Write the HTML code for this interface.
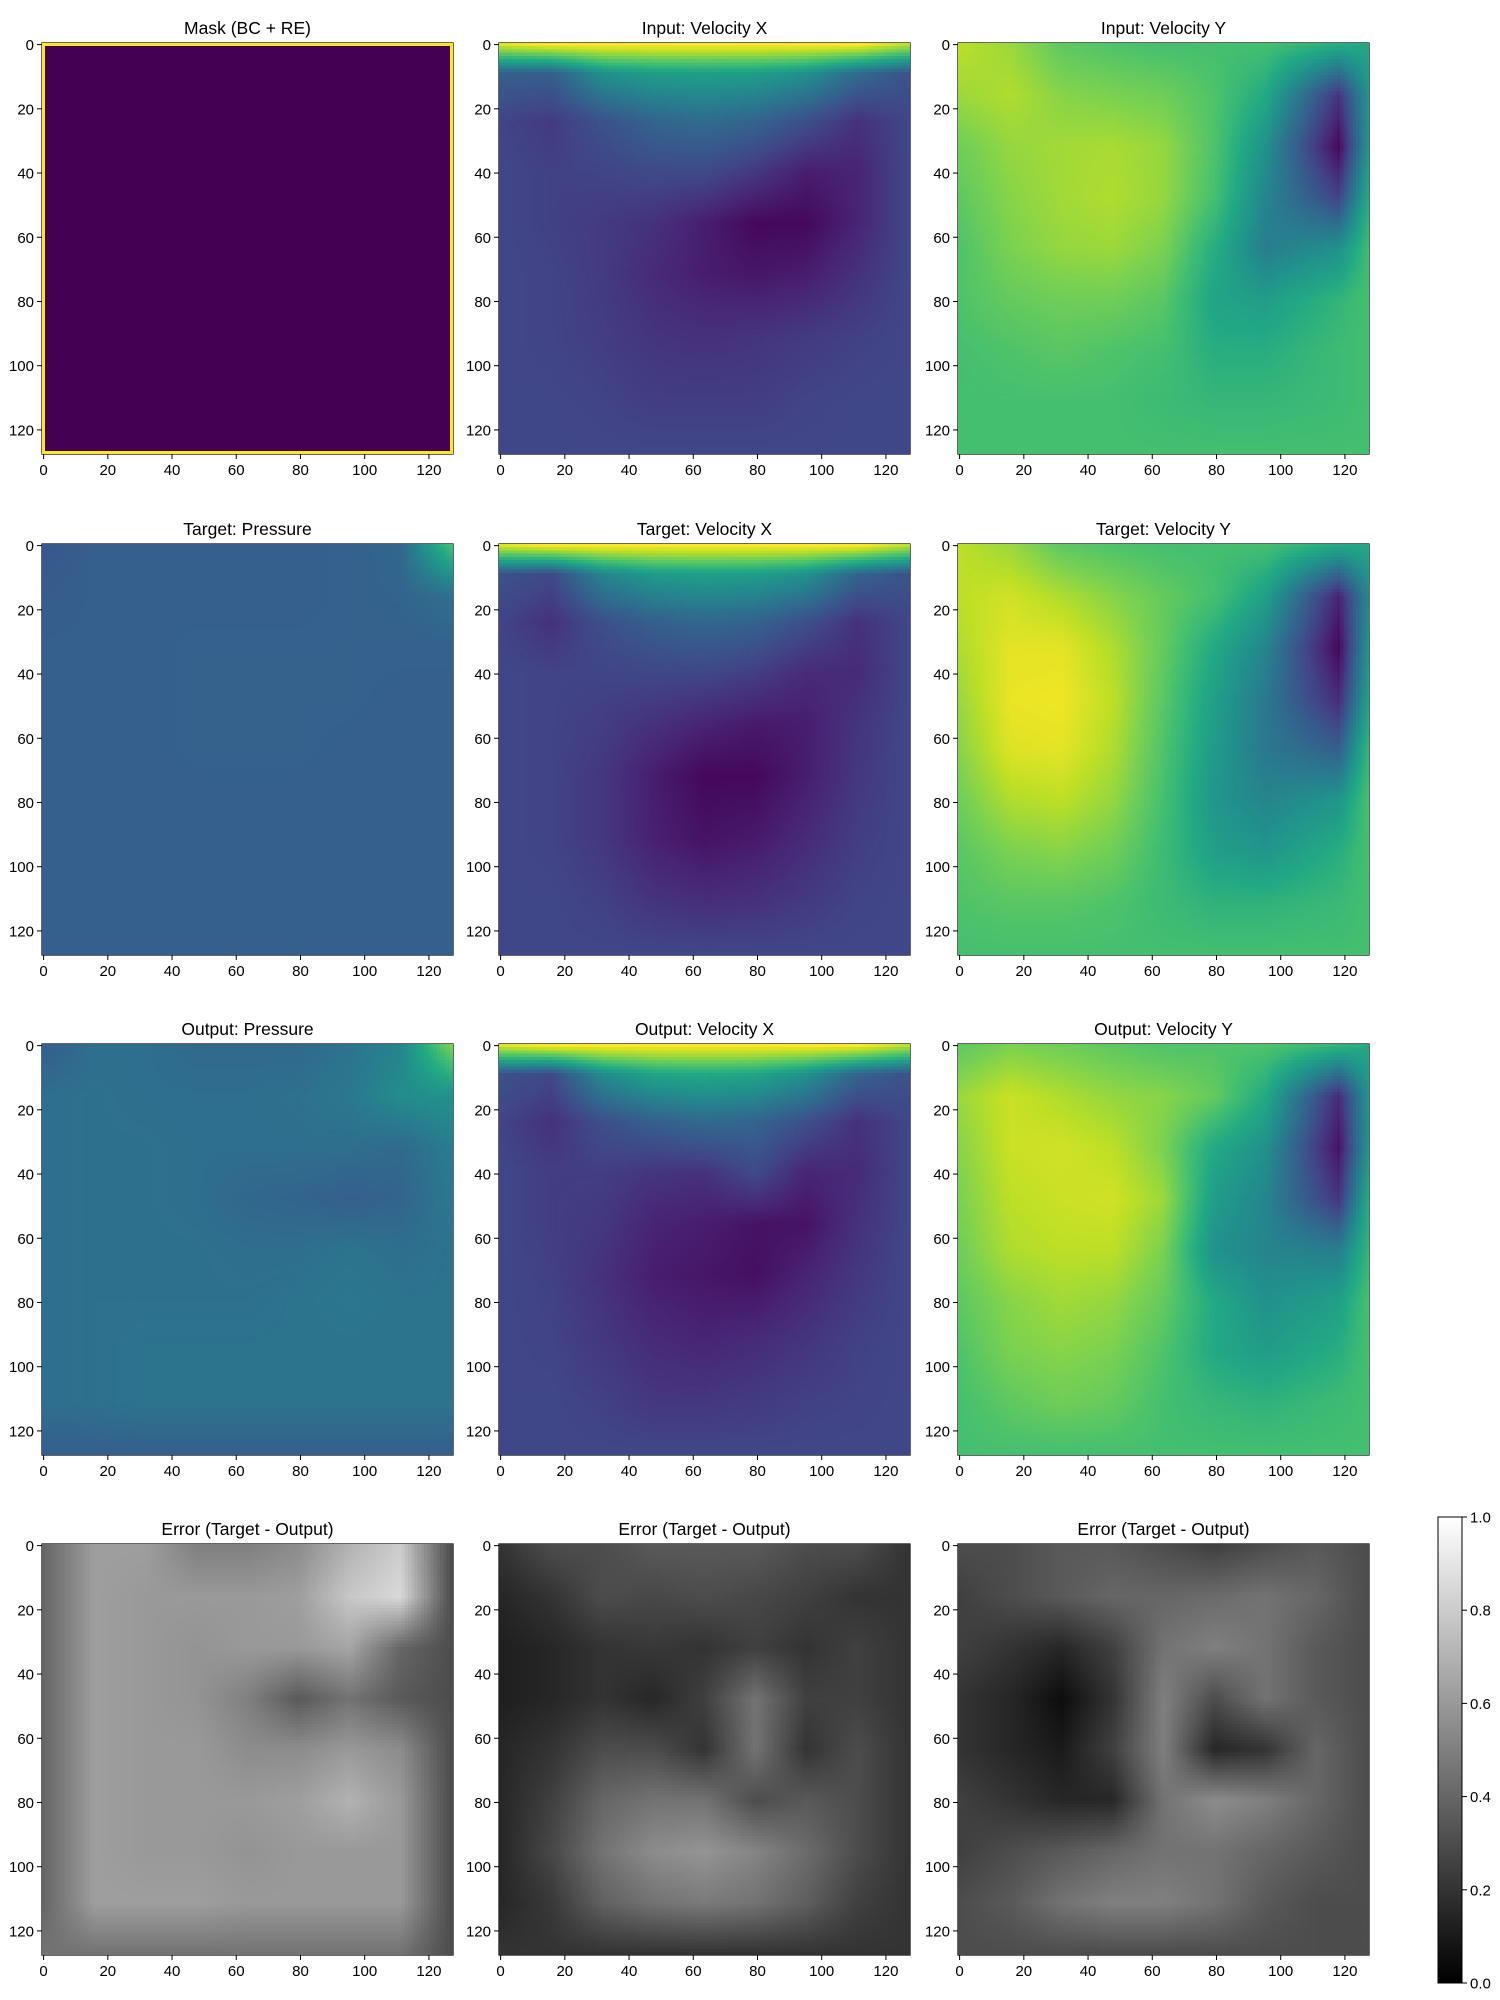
<!DOCTYPE html>
<html><head><meta charset="utf-8">
<style>
html,body{margin:0;padding:0;background:#fff;}
#root{position:relative;width:1500px;height:2000px;overflow:hidden;font-family:"Liberation Sans","DejaVu Sans",sans-serif;}
canvas{position:absolute;image-rendering:pixelated;}
svg{position:absolute;left:0;top:0;}
</style></head>
<body>
<div id="root">
<svg id="svg" width="1500" height="2000"></svg>
</div>
<script>
// ---- data: vertex grids (rows at knotsY; cols at knots X) ----
const tickValues = [0,20,40,60,80,100,120];
const cbarTicks = [0.0,0.2,0.4,0.6,0.8,1.0];
const titles = ["Mask (BC + RE)","Input: Velocity X","Input: Velocity Y","Target: Pressure","Target: Velocity X","Target: Velocity Y","Output: Pressure","Output: Velocity X","Output: Velocity Y","Error (Target - Output)","Error (Target - Output)","Error (Target - Output)"];
const knotsDefault = [0,16,32,48,64,80,96,112,128];
const knotsVelYx = [0,16,32,48,64,80,96,119,128];
const knotsVelXy = [0,9,24,40,56,72,92,112,128];
const maskInterior = 0.0;
const maskBoundary = 1.0;
const inputVelX = [
[0.95,1,1,1,1,1,1,1,0.9],
[0.3,0.3,0.5,0.55,0.56,0.55,0.5,0.35,0.25],
[0.2,0.17,0.25,0.32,0.35,0.32,0.24,0.14,0.21],
[0.21,0.19,0.2,0.22,0.22,0.16,0.08,0.1,0.21],
[0.21,0.19,0.17,0.14,0.08,0.02,0.02,0.1,0.21],
[0.21,0.2,0.17,0.12,0.08,0.06,0.08,0.14,0.21],
[0.21,0.2,0.18,0.15,0.14,0.15,0.17,0.19,0.21],
[0.21,0.21,0.2,0.18,0.18,0.18,0.2,0.21,0.21],
[0.21,0.21,0.21,0.21,0.21,0.21,0.21,0.21,0.21]];
const inputVelY = [
[0.9,0.85,0.75,0.72,0.7,0.7,0.7,0.62,0.6],
[0.85,0.88,0.82,0.8,0.78,0.72,0.6,0.15,0.5],
[0.78,0.84,0.86,0.87,0.84,0.72,0.5,0.02,0.5],
[0.75,0.82,0.86,0.88,0.84,0.7,0.45,0.2,0.6],
[0.72,0.8,0.84,0.85,0.8,0.62,0.42,0.5,0.68],
[0.72,0.76,0.78,0.78,0.74,0.58,0.55,0.65,0.7],
[0.7,0.72,0.74,0.72,0.7,0.62,0.62,0.68,0.7],
[0.7,0.7,0.7,0.7,0.68,0.66,0.66,0.68,0.7],
[0.7,0.7,0.7,0.7,0.7,0.7,0.7,0.7,0.7]];
const targetPressure = [
[0.27,0.3,0.3,0.3,0.3,0.3,0.31,0.33,0.7],
[0.29,0.3,0.3,0.3,0.3,0.3,0.31,0.32,0.36],
[0.3,0.3,0.3,0.31,0.31,0.31,0.31,0.31,0.31],
[0.3,0.3,0.3,0.31,0.31,0.31,0.31,0.3,0.3],
[0.3,0.3,0.3,0.31,0.31,0.31,0.3,0.3,0.3],
[0.3,0.3,0.3,0.3,0.3,0.3,0.3,0.3,0.3],
[0.3,0.3,0.3,0.3,0.3,0.3,0.3,0.3,0.3],
[0.3,0.3,0.3,0.3,0.3,0.3,0.3,0.3,0.3],
[0.3,0.3,0.3,0.3,0.3,0.3,0.3,0.3,0.3]];
const targetVelX = [
[0.95,1,1,1,1,1,1,1,0.9],
[0.25,0.22,0.45,0.54,0.56,0.55,0.5,0.32,0.25],
[0.2,0.14,0.24,0.3,0.33,0.31,0.24,0.14,0.21],
[0.21,0.2,0.2,0.21,0.21,0.18,0.12,0.12,0.21],
[0.21,0.2,0.18,0.14,0.1,0.07,0.08,0.15,0.21],
[0.21,0.2,0.16,0.08,0.02,0.02,0.08,0.16,0.21],
[0.21,0.2,0.16,0.09,0.05,0.07,0.12,0.18,0.21],
[0.21,0.21,0.19,0.15,0.13,0.14,0.17,0.2,0.21],
[0.21,0.21,0.21,0.21,0.21,0.21,0.21,0.21,0.21]];
const targetVelY = [
[0.9,0.85,0.75,0.72,0.7,0.7,0.7,0.6,0.6],
[0.9,0.93,0.88,0.82,0.76,0.7,0.56,0.1,0.45],
[0.88,0.96,0.96,0.88,0.76,0.6,0.45,0.02,0.5],
[0.85,0.97,0.98,0.9,0.74,0.56,0.4,0.12,0.55],
[0.82,0.95,0.96,0.88,0.72,0.54,0.4,0.3,0.65],
[0.78,0.88,0.9,0.84,0.7,0.52,0.45,0.52,0.7],
[0.74,0.8,0.82,0.78,0.68,0.56,0.52,0.62,0.7],
[0.72,0.74,0.74,0.72,0.68,0.64,0.64,0.67,0.7],
[0.7,0.7,0.7,0.7,0.7,0.7,0.7,0.7,0.7]];
const outputPressure = [
[0.3,0.36,0.36,0.34,0.34,0.34,0.38,0.45,0.8],
[0.36,0.37,0.36,0.36,0.36,0.37,0.4,0.48,0.5],
[0.36,0.37,0.37,0.36,0.36,0.36,0.36,0.34,0.42],
[0.36,0.37,0.37,0.36,0.33,0.32,0.3,0.32,0.4],
[0.36,0.37,0.37,0.37,0.36,0.36,0.38,0.36,0.38],
[0.36,0.37,0.37,0.37,0.37,0.38,0.4,0.38,0.38],
[0.36,0.37,0.38,0.38,0.38,0.38,0.38,0.38,0.38],
[0.36,0.37,0.38,0.38,0.38,0.38,0.38,0.38,0.38],
[0.3,0.3,0.3,0.3,0.3,0.3,0.3,0.3,0.3]];
const outputVelX = [
[0.95,1,1,1,1,1,1,1,0.9],
[0.25,0.22,0.48,0.58,0.6,0.58,0.5,0.32,0.25],
[0.2,0.14,0.24,0.3,0.34,0.32,0.24,0.14,0.21],
[0.21,0.18,0.18,0.15,0.14,0.22,0.1,0.12,0.21],
[0.21,0.18,0.16,0.1,0.08,0.05,0.05,0.14,0.21],
[0.21,0.19,0.14,0.08,0.06,0.04,0.1,0.16,0.21],
[0.21,0.2,0.16,0.12,0.1,0.12,0.15,0.19,0.21],
[0.21,0.21,0.19,0.16,0.16,0.17,0.19,0.2,0.21],
[0.21,0.21,0.21,0.21,0.21,0.21,0.21,0.21,0.21]];
const outputVelY = [
[0.75,0.8,0.78,0.75,0.72,0.72,0.72,0.65,0.6],
[0.85,0.92,0.88,0.84,0.82,0.76,0.6,0.12,0.5],
[0.82,0.92,0.93,0.9,0.8,0.6,0.5,0.05,0.5],
[0.8,0.9,0.92,0.93,0.85,0.55,0.45,0.15,0.6],
[0.78,0.88,0.9,0.9,0.8,0.5,0.45,0.42,0.65],
[0.75,0.82,0.86,0.84,0.76,0.6,0.5,0.56,0.7],
[0.72,0.8,0.82,0.8,0.72,0.6,0.55,0.62,0.7],
[0.7,0.75,0.78,0.76,0.7,0.66,0.64,0.68,0.7],
[0.7,0.7,0.7,0.7,0.7,0.7,0.7,0.7,0.7]];
const errorPressure = [
[0.4,0.62,0.62,0.5,0.5,0.55,0.7,0.8,0.3],
[0.4,0.62,0.6,0.6,0.6,0.62,0.78,0.85,0.3],
[0.4,0.62,0.6,0.58,0.6,0.6,0.65,0.4,0.3],
[0.4,0.62,0.6,0.58,0.5,0.35,0.45,0.35,0.3],
[0.4,0.62,0.6,0.6,0.55,0.55,0.6,0.55,0.3],
[0.4,0.62,0.6,0.6,0.6,0.62,0.7,0.6,0.3],
[0.4,0.62,0.6,0.6,0.58,0.6,0.6,0.6,0.3],
[0.4,0.62,0.62,0.62,0.6,0.6,0.6,0.6,0.3],
[0.45,0.45,0.45,0.45,0.45,0.45,0.45,0.45,0.3]];
const errorVelX = [
[0.2,0.3,0.3,0.35,0.35,0.35,0.3,0.3,0.2],
[0.15,0.2,0.3,0.28,0.3,0.28,0.25,0.2,0.2],
[0.12,0.15,0.2,0.22,0.2,0.25,0.2,0.25,0.2],
[0.12,0.15,0.2,0.15,0.25,0.45,0.25,0.25,0.2],
[0.15,0.2,0.3,0.3,0.2,0.45,0.2,0.3,0.2],
[0.15,0.25,0.4,0.45,0.45,0.3,0.35,0.3,0.2],
[0.15,0.28,0.45,0.55,0.58,0.52,0.42,0.3,0.2],
[0.15,0.22,0.38,0.45,0.48,0.45,0.37,0.25,0.2],
[0.2,0.2,0.2,0.2,0.2,0.2,0.2,0.2,0.2]];
const errorVelY = [
[0.3,0.3,0.35,0.35,0.3,0.25,0.3,0.35,0.3],
[0.25,0.3,0.35,0.4,0.4,0.42,0.45,0.4,0.3],
[0.25,0.2,0.15,0.25,0.45,0.5,0.45,0.35,0.3],
[0.2,0.15,0.05,0.2,0.5,0.3,0.45,0.35,0.3],
[0.2,0.15,0.1,0.25,0.5,0.15,0.2,0.4,0.3],
[0.25,0.2,0.15,0.15,0.45,0.55,0.5,0.4,0.3],
[0.25,0.3,0.35,0.4,0.45,0.45,0.4,0.35,0.3],
[0.3,0.35,0.45,0.5,0.5,0.45,0.35,0.3,0.3],
[0.3,0.3,0.3,0.3,0.3,0.3,0.3,0.3,0.3]];
const panelData = [null,inputVelX,inputVelY,targetPressure,targetVelX,targetVelY,outputPressure,outputVelX,outputVelY,errorPressure,errorVelX,errorVelY];
const panelKnotsX = [knotsDefault,knotsDefault,knotsVelYx,knotsDefault,knotsDefault,knotsVelYx,knotsDefault,knotsDefault,knotsVelYx,knotsDefault,knotsDefault,knotsDefault];
const panelKnotsY = [knotsDefault,knotsVelXy,knotsDefault,knotsDefault,knotsVelXy,knotsDefault,knotsDefault,knotsVelXy,knotsDefault,knotsDefault,knotsDefault,knotsDefault];
const panelNames = ["mask-panel","input-velocity-x-panel","input-velocity-y-panel","target-pressure-panel","target-velocity-x-panel","target-velocity-y-panel","output-pressure-panel","output-velocity-x-panel","output-velocity-y-panel","error-pressure-panel","error-velocity-x-panel","error-velocity-y-panel"];

// ---- layout ----
const N = 128, SIZE = 411;
const colLeft = [42, 499, 958];
const rowTop = [43, 544, 1044, 1544];
const VIR = ["#440154","#482475","#414487","#355f8d","#2a788e","#21918c","#22a884","#44bf70","#7ad151","#bddf26","#fde725"];
const VIRrgb = VIR.map(h=>[parseInt(h.substr(1,2),16),parseInt(h.substr(3,2),16),parseInt(h.substr(5,2),16)]);
function viridis(v){v=Math.max(0,Math.min(1,v));const t=v*10,i=Math.min(9,Math.floor(t)),f=t-i;const a=VIRrgb[i],b=VIRrgb[i+1];return [a[0]+(b[0]-a[0])*f,a[1]+(b[1]-a[1])*f,a[2]+(b[2]-a[2])*f];}
function gray(v){v=Math.max(0,Math.min(1,v));const g=v*255;return [g,g,g];}
function seg(k,v){let i=0;while(i<k.length-2&&v>k[i+1])i++;return [i,(v-k[i])/(k[i+1]-k[i])];}
function sample(grid,kx,ky,x,y){const [j,fx]=seg(kx,x),[i,fy]=seg(ky,y);
 return grid[i][j]*(1-fx)*(1-fy)+grid[i][j+1]*fx*(1-fy)+grid[i+1][j]*(1-fx)*fy+grid[i+1][j+1]*fx*fy;}
const root=document.getElementById('root');
const svg=document.getElementById('svg');
const NS="http://www.w3.org/2000/svg";
function sx(left,v){return left+(v+0.5)/N*SIZE;}
function mk(tag,attrs,parent){const e=document.createElementNS(NS,tag);for(const k in attrs)e.setAttribute(k,attrs[k]);(parent||svg).appendChild(e);return e;}

for(let p=0;p<12;p++){
  const r=Math.floor(p/3),c=p%3;const L=colLeft[c],T=rowTop[r];
  const cv=document.createElement('canvas');cv.width=N;cv.height=N;
  cv.style.left=L+'px';cv.style.top=T+'px';cv.style.width=SIZE+'px';cv.style.height=SIZE+'px';
  
  
  const ctx=cv.getContext('2d');const img=ctx.createImageData(N,N);
  const cmap=r===3?gray:viridis;
  for(let y=0;y<N;y++)for(let x=0;x<N;x++){
    let v;
    if(p===0){v=(x===0||y===0||x===N-1||y===N-1)?maskBoundary:maskInterior;}
    else v=sample(panelData[p],panelKnotsX[p],panelKnotsY[p],x*128/127,y*128/127);
    const col=cmap(v);const k=(y*N+x)*4;img.data[k]=col[0];img.data[k+1]=col[1];img.data[k+2]=col[2];img.data[k+3]=255;
  }
  ctx.putImageData(img,0,0);root.appendChild(cv);

  const g=mk('g',{});
  
  
  const fr=mk('rect',{x:L,y:T,width:SIZE,height:SIZE,fill:'none',stroke:'#000','stroke-width':1.2},g);
  
  
  const tt=mk('text',{x:L+SIZE/2,y:T-9,'text-anchor':'middle','font-size':17.5,fill:'#000'},g);
  tt.textContent=titles[p];
  
  
  tickValues.forEach(v=>{
    const xp=sx(L,v);
    mk('line',{x1:xp,x2:xp,y1:T+SIZE,y2:T+SIZE+5,stroke:'#000','stroke-width':1},g);
    const xl=mk('text',{x:xp,y:T+SIZE+21,'text-anchor':'middle','font-size':15,fill:'#000'},g);
    xl.textContent=v;
    
    
    const yp=sx(T,v);
    mk('line',{x1:L-5,x2:L,y1:yp,y2:yp,stroke:'#000','stroke-width':1},g);
    const yl=mk('text',{x:L-8,y:yp+5.5,'text-anchor':'end','font-size':15,fill:'#000'},g);
    yl.textContent=v;
    
    
  });
}
// colorbar
const CB={x:1438,y:1517,w:24,h:466};
const defs=mk('defs',{});
const lg=mk('linearGradient',{id:'gr',x1:0,y1:1,x2:0,y2:0},defs);
mk('stop',{offset:0,'stop-color':'#000'},lg);mk('stop',{offset:1,'stop-color':'#fff'},lg);
const cb=mk('rect',{x:CB.x,y:CB.y,width:CB.w,height:CB.h,fill:'url(#gr)',stroke:'#000','stroke-width':1});


cbarTicks.forEach(v=>{
  const yp=CB.y+CB.h-v*CB.h;
  mk('line',{x1:CB.x+CB.w,x2:CB.x+CB.w+5,y1:yp,y2:yp,stroke:'#000','stroke-width':1});
  const t=mk('text',{x:CB.x+CB.w+8,y:yp+5.5,'font-size':15,fill:'#000'});
  t.textContent=v.toFixed(1);
  
  
});
</script>
</body></html>
